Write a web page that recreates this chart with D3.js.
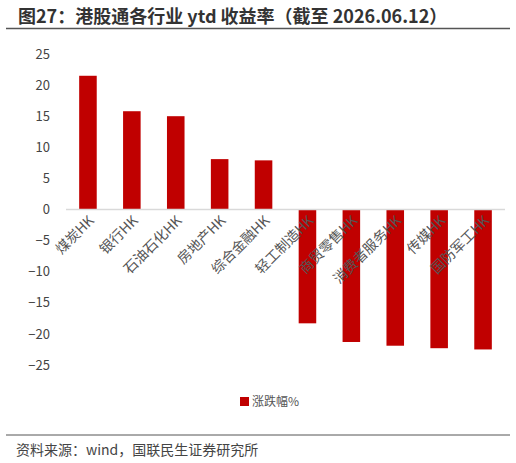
<!DOCTYPE html>
<html><head><meta charset="utf-8">
<script src="https://cdn.jsdelivr.net/npm/d3@7"></script>
<style>body{margin:0;background:#fff;font-family:"Noto Sans CJK SC",sans-serif}</style>
</head><body><div id="chart"></div>
<script>
const categories = ['煤炭HK','银行HK','石油石化HK','房地产HK','综合金融HK','轻工制造HK','商贸零售HK','消费者服务HK','传媒HK','国防军工HK'];
const values = [21.5, 15.8, 15.0, 8.1, 7.9, -18.3, -21.3, -21.9, -22.3, -22.5];
const yTicks = [25, 20, 15, 10, 5, 0, -5, -10, -15, -20, -25];

const svg = d3.select('#chart').append('svg').attr('width', 516).attr('height', 463);
const font = '"Noto Sans CJK SC", sans-serif';

// title
svg.append('text').attr('x', 18).attr('y', 23).style('font-family', font).style('font-size', '18px')
    .style('font-weight', 'bold').attr('fill', '#333').text('图27：港股通各行业 ytd 收益率（截至 2026.06.12）');
svg.append('line').attr('x1', 6).attr('x2', 510).attr('y1', 28.5).attr('y2', 28.5).attr('stroke', '#555').attr('stroke-width', 1.5);

const x = d3.scaleBand().domain(categories).range([66, 505]).paddingInner(0.6).paddingOuter(0.3);
const y = d3.scaleLinear().domain([-25, 25]).range([365, 54]);

// y axis labels
svg.append('g').attr('transform', 'translate(50,0)')
    .call(d3.axisLeft(y).tickValues(yTicks).tickSize(0).tickPadding(0))
    .call(g => g.select('.domain').remove())
    .selectAll('text').style('font-family', font).style('font-size', '13px').attr('fill', '#444');

svg.selectAll('rect.bar').data(values).join('rect').attr('class', 'bar')
    .attr('x', (d, i) => x(categories[i])).attr('width', x.bandwidth())
    .attr('y', d => y(Math.max(0, d))).attr('height', d => Math.abs(y(d) - y(0)))
    .attr('fill', '#c00000');

// zero line
svg.append('line').attr('x1', 66).attr('x2', 505).attr('y1', y(0)).attr('y2', y(0)).attr('stroke', '#d9d9d9').attr('stroke-width', 1.5);

// category labels
svg.selectAll('text.cat').data(categories).join('text').attr('class', 'cat')
    .attr('transform', d => `translate(${x(d) + x.bandwidth() / 2 + 7},${y(0) + 12}) rotate(-45)`)
    .attr('text-anchor', 'end').style('font-family', font).style('font-size', '14px').attr('fill', '#555').text(d => d);

// legend
svg.append('rect').attr('x', 240).attr('y', 397).attr('width', 9).attr('height', 9).attr('fill', '#c00000');
svg.append('text').attr('x', 252).attr('y', 406).style('font-family', font).style('font-size', '12px').attr('fill', '#555').text('涨跌幅%');

// footer
svg.append('line').attr('x1', 6).attr('x2', 510).attr('y1', 435).attr('y2', 435).attr('stroke', '#555').attr('stroke-width', 1);
svg.append('text').attr('x', 16).attr('y', 455).style('font-family', font).style('font-size', '14px').attr('fill', '#444').text('资料来源：wind，国联民生证券研究所');
</script></body></html>
